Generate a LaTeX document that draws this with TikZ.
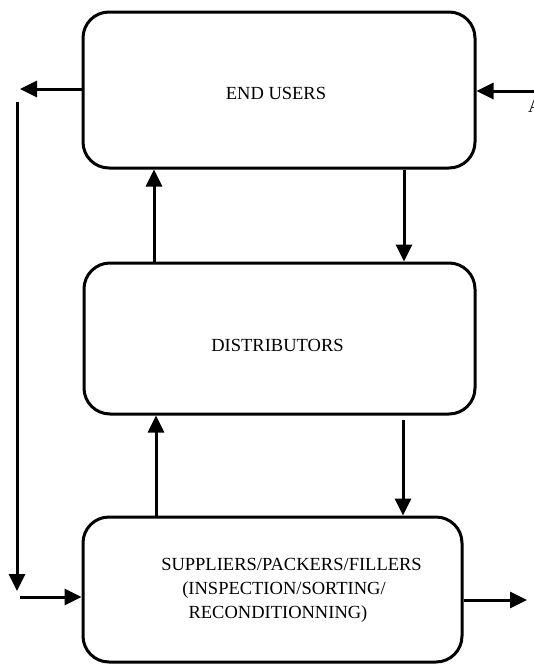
\documentclass[tikz,border=0pt]{standalone}
\usepackage{fontspec}
\setmainfont{Liberation Serif}
\usetikzlibrary{arrows.meta}
\begin{document}
\begin{tikzpicture}[x=1pt,y=-1pt,
  box/.style={draw=black,line width=3pt,rounded corners=26pt,inner sep=0pt},
  lbl/.style={font=\fontsize{18.5}{24}\selectfont,align=center,inner sep=0pt},
  arr/.style={line width=3pt,-{Triangle[length=17pt,width=16pt]}},
  plain/.style={line width=3pt}]
\useasboundingbox (0,0) rectangle (533,664);

% the three stages of the chain
\node[box,minimum width=392pt,minimum height=156pt] (users) at (279,90) {};
\node[box,minimum width=391pt,minimum height=151pt] (dist) at (279.5,338.5) {};
\node[box,minimum width=379pt,minimum height=145pt] (supp) at (272.5,589.5) {};

\node[lbl] (tusers) at (276,93) {END USERS};
\node[lbl] (tdist) at (277.5,345) {DISTRIBUTORS};
\node[lbl] (tsupp) at (284,590) {\hspace*{15pt}SUPPLIERS/PACKERS/FILLERS\\(INSPECTION/SORTING/\\RECONDITIONNING)\hspace*{12pt}};

% x positions of the vertical links
\coordinate (xa) at (154,0);
\coordinate (xb) at (404,0);
\coordinate (xc) at (156,0);
\coordinate (xd) at (403,0);

\draw[arr] (xa |- dist.north) -- (xa |- users.south);
\draw[arr] (xb |- users.south) -- (xb |- dist.north);
\draw[arr] (xc |- supp.north) -- (xc |- dist.south);
\draw[arr] ([yshift=-4pt]xd |- dist.south) -- (xd |- supp.north);

% return loop on the left
\coordinate (lout) at (20,89);
\coordinate (ltop) at (17,102);
\coordinate (lbot) at (17,591);
\coordinate (lin) at (20,597);
\draw[arr] (users.west |- lout) -- (lout);
\draw[arr] (ltop) -- (lbot);
\draw[arr] (lin) -- (supp.west |- lin);

% outside inflow and outflow
\coordinate (rin) at (540,91);
\coordinate (rout) at (527,600);
\draw[arr] (rin) -- (users.east |- rin);
\draw[arr] (supp.east |- rout) -- (rout);

% label cut at the right edge
\node[lbl,anchor=base west] (cut) at (528,112) {A};
\end{tikzpicture}
\end{document}
